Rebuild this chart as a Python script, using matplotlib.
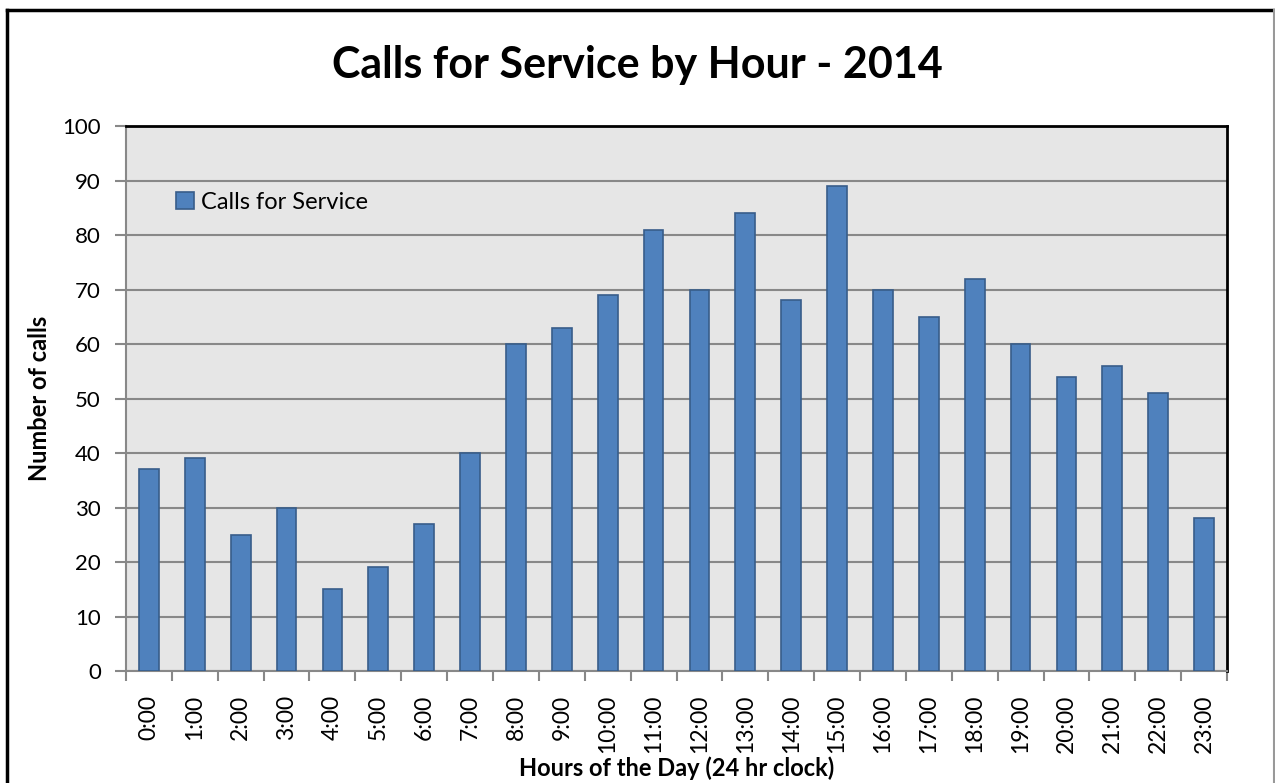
import matplotlib.pyplot as plt
from matplotlib.lines import Line2D

hours = [f"{h}:00" for h in range(24)]
calls = [37, 39, 25, 30, 15, 19, 27, 40, 60, 63, 69, 81,
         70, 84, 68, 89, 70, 65, 72, 60, 54, 56, 51, 28]
y_ticks = list(range(0, 101, 10))

plt.rcParams['font.family'] = ['Lato', 'DejaVu Sans']

fig = plt.figure(figsize=(12.75, 7.83), dpi=100)
ax = fig.add_axes([0.0988, 0.143, 0.8636, 0.696])
ax.set_facecolor('#e6e6e6')

x = list(range(len(hours)))
ax.bar(x, calls, width=0.43, color='#4f81bd', edgecolor='#385d8a',
       linewidth=1.2, label='Calls for Service', zorder=3)

ax.set_xlim(-0.5, 23.5)
ax.set_ylim(0, 100)
ax.set_yticks(y_ticks)
ax.yaxis.grid(True, color='#888888', linewidth=1.5, zorder=0)
ax.set_axisbelow(True)

ax.set_xticks(x)
ax.set_xticklabels(hours, rotation=90, fontsize=16.5)
ax.set_xticks([i - 0.5 for i in range(25)], minor=True)
ax.tick_params(axis='x', which='major', length=0, pad=17)
ax.tick_params(axis='x', which='minor', length=7, width=1.5, color='#888888')
ax.tick_params(axis='y', length=8, width=1.5, color='#888888', labelsize=16, pad=10)

for side in ['left', 'bottom']:
    ax.spines[side].set_color('#888888')
    ax.spines[side].set_linewidth(1.5)
for side in ['top', 'right']:
    ax.spines[side].set_color('black')
    ax.spines[side].set_linewidth(2)

ax.set_ylabel('Number of calls', fontsize=17, fontweight='bold', labelpad=8)
ax.set_xlabel('Hours of the Day (24 hr clock)', fontsize=17, fontweight='bold', labelpad=2)

fig.text(0.5, 0.917, 'Calls for Service by Hour - 2014', ha='center', va='center',
         fontsize=31, fontweight='bold')

ax.legend(loc='upper left', bbox_to_anchor=(0.026, 0.918), frameon=False,
          fontsize=17, handlelength=0.75, handleheight=0.75, handletextpad=0.3)

# outer border (top, left, right)
fig.add_artist(Line2D([0.0055, 0.0055], [0, 0.987], color='black', linewidth=2.5, transform=fig.transFigure))
fig.add_artist(Line2D([0.0055, 0.999], [0.987, 0.987], color='black', linewidth=2.5, transform=fig.transFigure))
fig.add_artist(Line2D([0.999, 0.999], [0, 0.987], color='#999999', linewidth=1.5, transform=fig.transFigure))

fig.savefig('out.png', dpi=100)
